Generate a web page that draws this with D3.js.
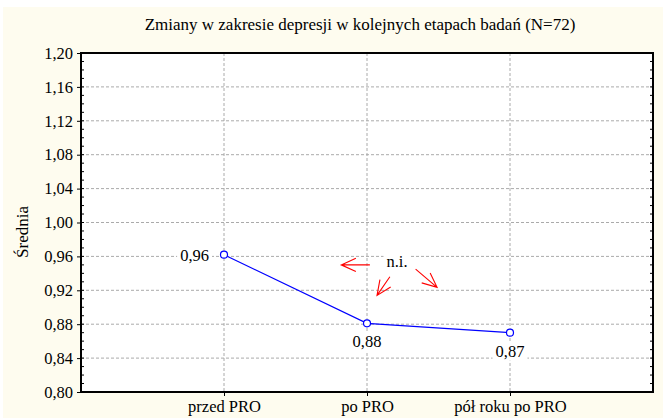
<!DOCTYPE html>
<html>
<head>
<meta charset="utf-8">
<script src="https://cdn.jsdelivr.net/npm/d3@7"></script>
<style>
  body { margin: 0; background: #fff; }
</style>
</head>
<body>
<div id="chart"></div>
<script>
// data
const categories = ["przed PRO", "po PRO", "pół roku po PRO"];
const means = [0.962, 0.881, 0.870];
const meanLabels = ["0,96", "0,88", "0,87"];
const yTicks = [0.80, 0.84, 0.88, 0.92, 0.96, 1.00, 1.04, 1.08, 1.12, 1.16, 1.20];
const title = "Zmiany w zakresie depresji w kolejnych etapach badań (N=72)";
const yTitle = "Średnia";
// annotation: "n.i." with arrows, in (category index, value) coordinates
const noteText = "n.i.";
const notePos = [1.21, 0.947];
const arrows = [
  {from: [1.02, 0.950], to: [0.82, 0.950]},
  {from: [1.16, 0.936], to: [1.07, 0.914]},
  {from: [1.34, 0.945], to: [1.49, 0.9235]}
];

const SERIF = "'Liberation Serif'";
const W = 663, H = 418;
const margin = {top: 53, right: 10, bottom: 26, left: 81};
const width = W - margin.left - margin.right,
      height = H - margin.top - margin.bottom;

const svg = d3.select("#chart").append("svg")
  .attr("width", W)
  .attr("height", H);

// cream background panel
svg.append("rect")
  .attr("x", 3).attr("y", 7)
  .attr("width", W - 3).attr("height", H - 7)
  .attr("fill", "#fefcef");

svg.append("text")
  .attr("x", 360).attr("y", 30)
  .attr("text-anchor", "middle")
  .style("font-family", SERIF)
  .style("font-size", "17px")
  .text(title);

const g = svg.append("g")
  .attr("transform", "translate(" + margin.left + "," + margin.top + ")");

g.append("rect")
  .attr("width", width).attr("height", height)
  .attr("fill", "#fff");

const x = d3.scalePoint()
  .domain(categories)
  .range([0, width])
  .padding(1);
const step = x.step();
const xi = i => x(categories[0]) + i * step;

const y = d3.scaleLinear()
  .domain([0.80, 1.20])
  .range([height, 0]);

const fmt = d => d3.format(".2f")(d).replace(".", ",");

// grid lines
g.append("g").selectAll("line")
  .data(yTicks.slice(1, -1))
  .join("line")
  .attr("x1", 0).attr("x2", width)
  .attr("y1", d => y(d)).attr("y2", d => y(d))
  .attr("stroke", "#aaa")
  .attr("stroke-dasharray", "3,2");

g.append("g").selectAll("line")
  .data(categories)
  .join("line")
  .attr("x1", d => x(d)).attr("x2", d => x(d))
  .attr("y1", 0).attr("y2", height)
  .attr("stroke", "#aaa")
  .attr("stroke-dasharray", "3,2");

// left axis: major outward, minor inward
const yAxis = g.append("g")
  .call(d3.axisLeft(y).tickValues(yTicks).tickFormat(fmt).tickSize(4).tickPadding(4));
yAxis.select(".domain").remove();
yAxis.selectAll("text").style("font-family", SERIF).style("font-size", "16.5px").attr("fill", "#000");

const minor = d3.range(41).map(i => 0.80 + i * 0.01).filter(v => v > 0.801 && v < 1.199);
g.append("g").selectAll("line")
  .data(minor)
  .join("line")
  .attr("x1", 0).attr("x2", 3)
  .attr("y1", d => y(d)).attr("y2", d => y(d))
  .attr("stroke", "#000");
g.append("g").selectAll("line")
  .data(minor)
  .join("line")
  .attr("x1", width - 3).attr("x2", width)
  .attr("y1", d => y(d)).attr("y2", d => y(d))
  .attr("stroke", "#000");

// bottom axis
const xAxis = g.append("g")
  .attr("transform", "translate(0," + height + ")")
  .call(d3.axisBottom(x).tickSize(4).tickPadding(4));
xAxis.select(".domain").remove();
xAxis.selectAll("text").style("font-family", SERIF).style("font-size", "16.5px").attr("fill", "#000");

// frame
g.append("rect")
  .attr("width", width).attr("height", height)
  .attr("fill", "none")
  .attr("stroke", "#000")
  .attr("stroke-width", 2);

// y title
svg.append("text")
  .attr("transform", "translate(28,232) rotate(-90)")
  .attr("text-anchor", "middle")
  .style("font-family", SERIF)
  .style("font-size", "17px")
  .text(yTitle);

// line + points
const line = d3.line()
  .x((d, i) => x(categories[i]))
  .y(d => y(d));

g.append("path")
  .datum(means)
  .attr("fill", "none")
  .attr("stroke", "#0000ff")
  .attr("stroke-width", 1.2)
  .attr("d", line);

g.selectAll(".pt")
  .data(means)
  .join("circle")
  .attr("class", "pt")
  .attr("cx", (d, i) => x(categories[i]))
  .attr("cy", d => y(d))
  .attr("r", 3.5)
  .attr("fill", "#fff")
  .attr("stroke", "#0000ff")
  .attr("stroke-width", 1.2);

// value labels with white boxes
function boxedLabel(tx, ty, anchor, txt) {
  const t = g.append("text")
    .attr("x", tx).attr("y", ty)
    .attr("text-anchor", anchor)
    .style("font-family", SERIF)
    .style("font-size", "16.5px")
    .text(txt);
  const b = t.node().getBBox();
  g.insert("rect", function() { return t.node(); })
    .attr("x", b.x - 3).attr("y", b.y)
    .attr("width", b.width + 6).attr("height", b.height)
    .attr("fill", "#fff");
}

means.forEach((d, i) => {
  const cx = x(categories[i]), cy = y(d);
  if (i === 0) boxedLabel(cx - 15, cy + 6, "end", meanLabels[i]);
  else boxedLabel(cx, cy + 24, "middle", meanLabels[i]);
});

boxedLabel(xi(notePos[0]), y(notePos[1]), "middle", noteText);

// red arrows: open head + single shaft
arrows.forEach(a => {
  const x1 = xi(a.from[0]), y1 = y(a.from[1]);
  const x2 = xi(a.to[0]), y2 = y(a.to[1]);
  const ang = Math.atan2(y2 - y1, x2 - x1);
  const hl = 16, ha = 0.42;
  const p1 = [x2 - hl * Math.cos(ang - ha), y2 - hl * Math.sin(ang - ha)];
  const p2 = [x2 - hl * Math.cos(ang + ha), y2 - hl * Math.sin(ang + ha)];
  const path = d3.path();
  path.moveTo(p1[0], p1[1]); path.lineTo(x2, y2); path.lineTo(p2[0], p2[1]);
  path.moveTo(x1, y1); path.lineTo(x2, y2);
  g.append("path")
    .attr("d", path.toString())
    .attr("fill", "none")
    .attr("stroke", "#ff0000")
    .attr("stroke-width", 1.1);
});
</script>
</body>
</html>
